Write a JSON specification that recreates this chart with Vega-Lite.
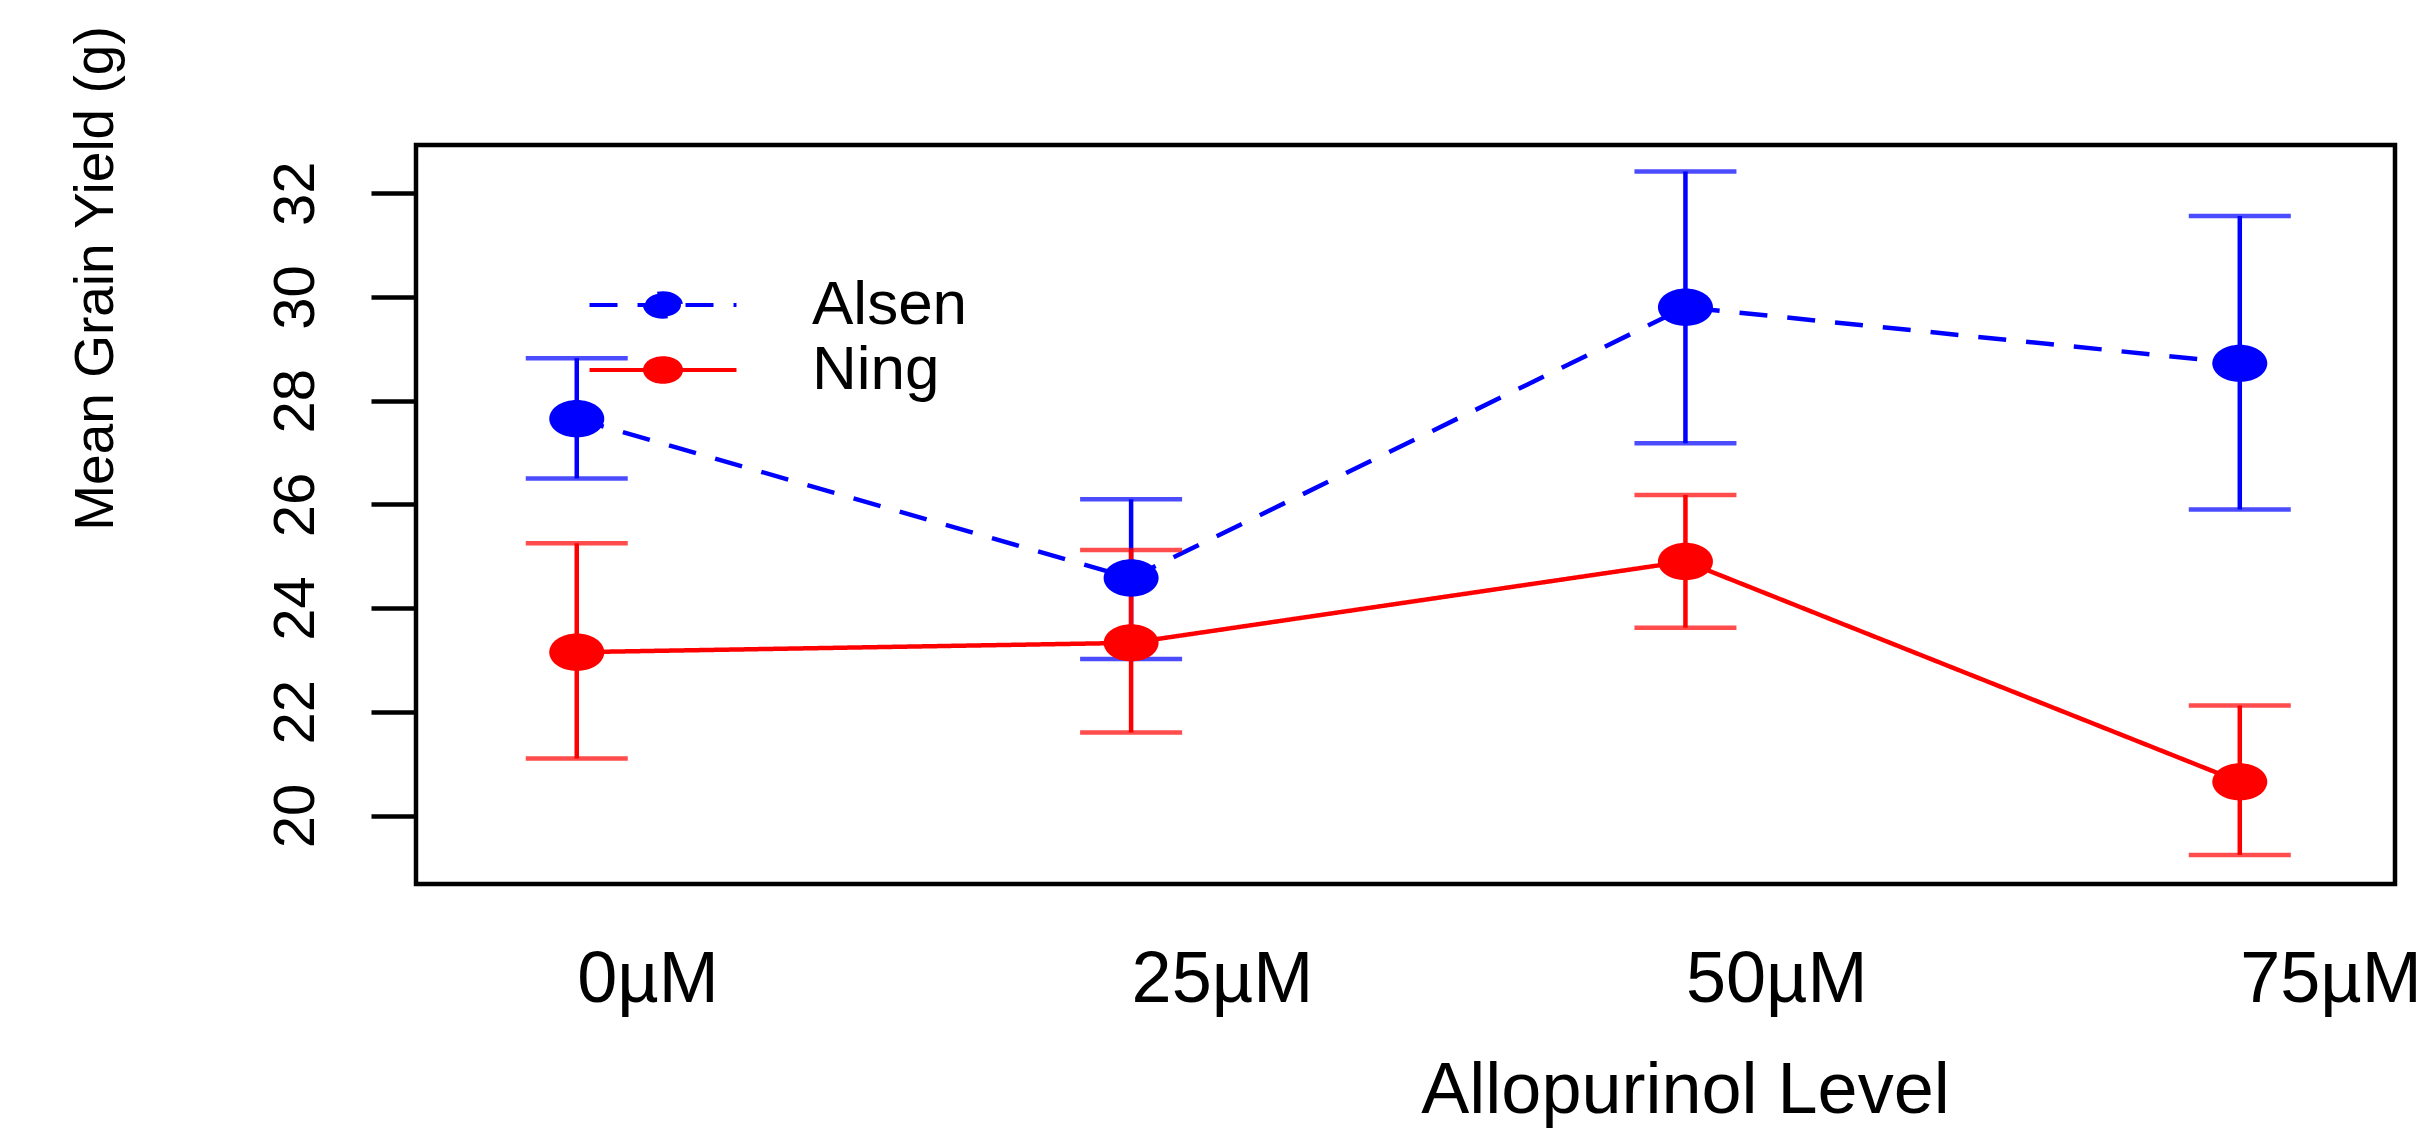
{
  "$schema": "https://vega.github.io/schema/vega-lite/v6.json",
  "width": 1979,
  "height": 739,
  "autosize": {"type": "none"},
  "padding": {"left": 416, "top": 145, "right": 40, "bottom": 247},
  "background": "white",
  "config": {
    "font": "Liberation Sans",
    "view": {"stroke": "black", "strokeWidth": 4.5}
  },
  "data": {
    "values": [
      {"variety": "Alsen", "pos": 1, "level": "0µM", "mean": 27.65, "lo": 26.5, "hi": 28.82},
      {"variety": "Alsen", "pos": 2, "level": "25µM", "mean": 24.58, "lo": 23.02, "hi": 26.1},
      {"variety": "Alsen", "pos": 3, "level": "50µM", "mean": 29.8, "lo": 27.18, "hi": 32.42},
      {"variety": "Alsen", "pos": 4, "level": "75µM", "mean": 28.72, "lo": 25.9, "hi": 31.56},
      {"variety": "Ning", "pos": 1, "level": "0µM", "mean": 23.15, "lo": 21.1, "hi": 25.25},
      {"variety": "Ning", "pos": 2, "level": "25µM", "mean": 23.33, "lo": 21.6, "hi": 25.12},
      {"variety": "Ning", "pos": 3, "level": "50µM", "mean": 24.9, "lo": 23.62, "hi": 26.18},
      {"variety": "Ning", "pos": 4, "level": "75µM", "mean": 20.65, "lo": 19.24, "hi": 22.12}
    ]
  },
  "encoding": {
    "x": {
      "field": "pos", "type": "quantitative",
      "scale": {"domain": [0.71, 4.28], "nice": false, "zero": false},
      "axis": {
        "values": [1, 2, 3, 4],
        "labelExpr": "['0µM','25µM','50µM','75µM'][datum.value-1]",
        "domain": false, "ticks": false, "tickSize": 0, "grid": false,
        "labelAlign": "left", "labelBaseline": "alphabetic", "labelPadding": 117,
        "labelFontSize": 72, "labelColor": "black", "labelFont": "Liberation Sans",
        "labelLimit": 500, "labelOverlap": false,
        "title": "Allopurinol Level", "titleFontSize": 72, "titleFontWeight": "normal",
        "titleColor": "black", "titleFont": "Liberation Sans", "titleLimit": 1000,
        "titleX": 1269, "titleY": 228, "titleAlign": "center", "titleBaseline": "alphabetic", "titleAnchor": null
      }
    }
  },
  "layer": [
    {
      "mark": {"type": "line", "strokeWidth": 4.5},
      "encoding": {
        "y": {
          "field": "mean", "type": "quantitative",
          "scale": {"domain": [18.68, 32.93], "nice": false, "zero": false},
          "axis": {
            "values": [20, 22, 24, 26, 28, 30, 32],
            "domain": false, "grid": false,
            "tickSize": 45, "tickWidth": 4.5, "tickColor": "black",
            "labelAngle": 270, "labelAlign": "center", "labelBaseline": "alphabetic",
            "labelPadding": 58, "labelFontSize": 58, "labelColor": "black", "labelFont": "Liberation Sans",
            "title": "Mean Grain Yield (g)", "titleFontSize": 55, "titleFontWeight": "normal",
            "titleColor": "black", "titleFont": "Liberation Sans", "titleAngle": 270, "titleLimit": 1000,
            "titleX": -321, "titleY": 133, "titleAlign": "center", "titleBaseline": "middle", "titleAnchor": null
          }
        },
        "order": {"field": "pos"},
        "color": {
          "field": "variety", "type": "nominal",
          "scale": {"domain": ["Alsen", "Ning"], "range": ["#0000ff", "#ff0000"]},
          "legend": {
            "orient": "none", "legendX": 216, "legendY": 129,
            "title": null, "padding": 0,
            "symbolType": "M-6,0H6M-1.47,0A1.47,0.96 0 1,0 1.47,0A1.47,0.96 0 1,0 -1.47,0Z",
            "symbolSize": 600, "symbolStrokeWidth": 4,
            "labelFontSize": 62, "labelColor": "black", "labelFont": "Liberation Sans",
            "labelOffset": 118, "rowPadding": 3, "labelLimit": 500,
            "encode": {"symbols": {"update": {"fill": {"scale": "color", "field": "value"}, "stroke": {"scale": "color", "field": "value"}}}}
          }
        },
        "strokeDash": {
          "field": "variety", "type": "nominal",
          "scale": {"domain": ["Alsen", "Ning"], "range": [[28, 20], [1, 0]]}
        }
      }
    },
    {
      "mark": {"type": "rule", "strokeWidth": 4.5},
      "encoding": {
        "y": {"field": "lo", "type": "quantitative"},
        "y2": {"field": "hi"},
        "color": {"field": "variety", "type": "nominal"}
      }
    },
    {
      "mark": {"type": "tick", "orient": "horizontal", "size": 102, "thickness": 4.5},
      "encoding": {
        "y": {"field": "lo", "type": "quantitative"},
        "color": {"field": "variety", "type": "nominal"}
      }
    },
    {
      "mark": {"type": "tick", "orient": "horizontal", "size": 102, "thickness": 4.5},
      "encoding": {
        "y": {"field": "hi", "type": "quantitative"},
        "color": {"field": "variety", "type": "nominal"}
      }
    },
    {
      "mark": {"type": "point", "filled": true, "opacity": 1, "size": 3025,
               "shape": "M-1,0A1,0.68 0 1,0 1,0A1,0.68 0 1,0 -1,0Z"},
      "encoding": {
        "y": {"field": "mean", "type": "quantitative"},
        "color": {"field": "variety", "type": "nominal"}
      }
    }
  ]
}
